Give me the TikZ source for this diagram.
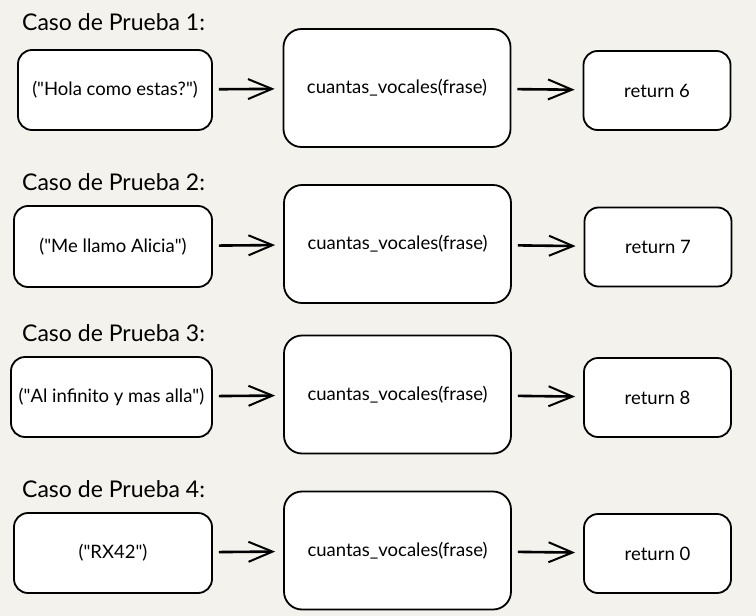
\documentclass[tikz,border=0pt]{standalone}
\usepackage{fontspec}
\setmainfont{Lato}
\usepackage{xcolor}
\usetikzlibrary{arrows.meta, positioning}

\definecolor{paper}{RGB}{243,242,236}

\begin{document}
\begin{tikzpicture}[x=1pt, y=-1pt, >={Straight Barb[length=24pt, width=20pt, line width=2pt]}]
		\tikzstyle{box} = [draw=black, line width=1.8pt, fill=white, rounded corners=14pt, inner sep=0pt, font=\fontsize{18.5}{21}\selectfont]
		\tikzstyle{func} = [box, rounded corners=18pt, minimum width=227pt, minimum height=118pt]
		\tikzstyle{res} = [box, minimum width=147pt, minimum height=79pt]
		\tikzstyle{title} = [draw=none, anchor=west, inner sep=0pt, font=\fontsize{23}{26}\selectfont]
		\tikzstyle{flow} = [->, line width=2.6pt, shorten <=6pt, shorten >=8pt]
		
		\fill[paper] (0, 0) rectangle (756, 616);
		\useasboundingbox (0, 0) rectangle (756, 616);
		
		% caso 1
		\node[title] 	at (22, 22) 		(t1) 	{Caso de Prueba 1:};
		\node[box, minimum width=194pt, minimum height=80pt] 	at (115, 90) 	(in1) 	{(\textquotedbl Hola como estas?\textquotedbl)};
		\node[func] 	at (397, 88) 		(fn1) 	{cuantas\_vocales(frase)};
		\node[res] 	at (657, 90.5) 		(out1) 	{return 6};
		
		% caso 2
		\node[title] 	at (22, 182) 		(t2) 	{Caso de Prueba 2:};
		\node[box, minimum width=198pt, minimum height=81pt] 	at (113, 246.5) 	(in2) 	{(\textquotedbl Me llamo Alicia\textquotedbl)};
		\node[func] 	at (397.5, 244) 		(fn2) 	{cuantas\_vocales(frase)};
		\node[res] 	at (658, 247) 		(out2) 	{return 7};
		
		% caso 3
		\node[title] 	at (22, 333) 		(t3) 	{Caso de Prueba 3:};
		\node[box, minimum width=201pt, minimum height=80pt] 	at (111.5, 397) 	(in3) 	{(\textquotedbl Al infinito y mas alla\textquotedbl)};
		\node[func] 	at (397.5, 394.5) 		(fn3) 	{cuantas\_vocales(frase)};
		\node[res] 	at (657.5, 397.5) 		(out3) 	{return 8};
		
		% caso 4
		\node[title] 	at (22, 489) 		(t4) 	{Caso de Prueba 4:};
		\node[box, minimum width=198pt, minimum height=80pt] 	at (113, 553) 	(in4) 	{(\textquotedbl RX42\textquotedbl)};
		\node[func] 	at (397.5, 550.5) 		(fn4) 	{cuantas\_vocales(frase)};
		\node[res] 	at (657.5, 553.5) 		(out4) 	{return 0};
		
		\path[flow]
		(in1)	edge	(fn1)
		(fn1)	edge	(out1)
		(in2)	edge	(fn2)
		(fn2)	edge	(out2)
		(in3)	edge	(fn3)
		(fn3)	edge	(out3)
		(in4)	edge	(fn4)
		(fn4)	edge	(out4);
\end{tikzpicture}
\end{document}
